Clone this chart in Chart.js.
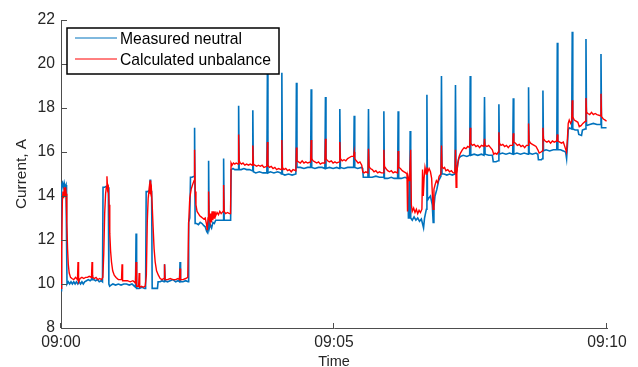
<!DOCTYPE html>
<html>
<head>
<meta charset="utf-8">
<title>Neutral current</title>
<script src="https://cdn.jsdelivr.net/npm/chart.js@4.4.1/dist/chart.umd.min.js"></script>
<style>
  html, body { margin: 0; padding: 0; background: #fff; }
  canvas { display: block; }
</style>
</head>
<body>
<canvas id="chart" width="638" height="367"></canvas>
<script>
// Time axis: seconds after 09:00, labelled every five minutes.
const xTickLabels = ['09:00', '09:05', '09:10'];
const xTickStepSeconds = 300;
const yAxisMin = 8;
const yAxisMax = 22;
const yTickStep = 2;
const seriesNames = ['Measured neutral', 'Calculated unbalance'];

// [seconds after 09:00, current in A]
const measuredNeutral = [
  [0,9.7],[0.6,14.5],[1.5,14.6],[2.5,14.4],[3.5,14.6],[4.5,14.4],[5.5,14.5],[6.1,12.0],[6.6,10.0],
  [8,10.1],[9.5,10.0],[11,10.1],[12.5,10.0],[14,10.1],[15.5,10.0],[17,10.1],[18.5,10.0],[20,10.1],
  [21.5,10.0],[23,10.1],[24.5,10.0],[26,10.1],[28,10.15],[30,10.2],[32,10.15],[33.5,10.2],[34.1,10.4],
  [34.7,10.2],[36,10.2],[38,10.15],[40,10.2],[42,10.1],[44,10.15],[45.6,10.1],
  [46.2,14.4],[48,14.4],[50,14.45],[52,14.4],[52.6,10.0],[53.5,9.9],[55,9.95],[57,10.0],[60,9.95],
  [63,10.0],[66,9.95],[69,10.0],[72,10.0],[75,9.95],[78,10.0],[80.5,9.9],[81.9,9.85],[82.5,12.3],
  [83.1,9.8],[86,9.8],[89,9.85],[92,9.8],[93,9.8],
  [93.6,14.2],[95,14.2],[97.3,14.25],[97.9,14.75],[98.5,14.2],[99.6,14.2],[100.2,9.8],[103,9.8],
  [106,9.8],[106.7,10.1],[109,10.1],[111,10.15],[113.2,10.1],[113.8,10.9],[114.4,10.15],[117,10.1],
  [120,10.15],[123,10.2],[126,10.1],[128.5,10.15],[130.2,10.1],[130.8,11.0],[131.4,10.1],[134,10.1],
  [137,10.15],[139.7,10.1],
  [140.3,12.8],[141.5,13.0],[142.3,14.85],[144,14.85],[146.2,14.9],[146.8,17.1],[147.4,12.75],[149,12.75],
  [151,12.7],[153,12.8],[155,12.75],[157,12.65],[158.5,12.6],[160,12.4],[160.7,12.35],[161.6,12.6],
  [162.2,15.6],[162.8,12.5],[164,12.7],[165.5,12.55],[167,12.8],[168.5,12.75],[170,12.9],[172,12.9],
  [175,12.9],[178.1,12.9],[178.7,15.7],[179.3,12.9],[182,12.9],[185,12.9],[186.4,12.9],
  [187,15.2],[189,15.25],[191,15.2],[194.6,15.2],[195.2,18.1],[195.8,15.2],[198,15.2],[201,15.25],
  [204,15.2],[207,15.2],[210.2,15.15],[210.8,17.9],[211.4,15.1],[214,15.05],[218,15.1],[222,15.05],
  [226.2,15.05],[226.8,19.55],[227.4,15.05],[230,15.1],[234,15.05],[238,15.1],[241.5,15.05],[242.1,15.0],
  [242.7,19.6],[243.3,15.0],[246,14.95],[250,15.0],[254,14.95],[258.1,15.0],[258.7,19.15],[259.3,15.3],
  [263,15.3],[267,15.25],[271,15.3],[274.3,15.3],[274.9,18.85],[275.5,15.3],[279,15.25],[283,15.3],
  [287,15.3],[290,15.25],[290.6,18.5],[291.2,15.25],[295,15.3],[299,15.25],[303,15.3],[305.8,15.25],
  [306.4,17.95],[307,15.3],[311,15.25],[315,15.3],[319,15.3],[321.6,15.3],[322.2,17.65],[322.8,15.3],
  [326,15.25],[330,15.3],[331.5,15.25],
  [332.2,14.85],[335,14.85],[337.3,14.85],[337.9,17.95],[338.5,14.85],[342,14.85],[346,14.9],[350,14.85],
  [354.2,14.85],[354.8,17.85],[355.4,14.8],[359,14.8],[363,14.85],[366,14.8],[369.9,14.8],[370.5,17.85],
  [371.1,14.8],[374,14.8],[378,14.85],[381,14.8],
  [381.8,13.0],[383,13.0],[383.7,16.95],[384.3,13.0],[386,12.9],[388,13.05],[390,12.9],[392,13.0],
  [394,12.85],[396,12.95],[398.4,12.55],[399.5,13.0],[401.5,13.4],[402.1,18.6],[402.7,13.8],[404,13.9],
  [406,14.0],[408,13.6],[409,12.8],[409.8,13.5],[411,14.0],[413,14.3],[415,14.7],[417.5,14.9],
  [418.1,19.45],[418.7,15.0],[421,15.0],[424,14.95],[427,15.0],[430,14.95],[432.9,15.0],[433.5,19.05],
  [434.1,15.0],[435.5,15.3],[437,15.7],[439,15.8],[442,15.85],[446,15.8],[449.1,15.85],[449.7,19.45],
  [450.3,15.85],[454,15.9],[458,15.85],[462,15.9],[464.8,15.85],[465.4,18.5],[466,15.9],[470,15.85],
  [474,15.85],[475,15.56],[478,15.56],[480.6,15.6],[481.2,18.17],[481.8,15.9],[485,15.95],[489,15.9],
  [493,15.95],[496.4,15.9],[497.0,18.44],[497.6,15.9],[501,15.95],[505,15.9],[509,15.95],[513.2,15.9],
  [513.8,18.94],[514.4,15.95],[518,15.9],[522,15.95],[524,15.9],[524.6,15.65],[528,15.65],[529,15.7],
  [529.6,18.8],[530.2,16.05],[533,16.1],[537,16.05],[541,16.1],[544.8,16.1],[545.4,20.97],[546,16.1],
  [549,16.1],[552,16.05],[554.5,16.0],[555.6,15.7],[556.5,16.3],[557.4,17.0],[558.5,17.1],[561.2,17.05],
  [561.8,21.47],[562.4,17.05],[565,17.0],[568,17.0],[569,16.8],[572,16.75],[573,17.0],[576.3,17.05],
  [576.9,21.14],[577.5,17.2],[581,17.25],[585,17.3],[589,17.25],[592.8,17.25],[593.4,20.45],[594,17.1],
  [597,17.1],[599.5,17.1]
];

const calculatedUnbalance = [
  [0,9.8],[0.7,11.5],[1.5,13.8],[2.2,14.2],[2.9,13.9],[3.6,14.4],[4.3,14.0],[5.0,14.4],[5.7,14.1],
  [6.4,12.8],[7.2,11.6],[8.0,10.9],[9,10.5],[10.5,10.3],[12,10.25],[14,10.2],[16,10.3],[18.1,10.2],
  [18.7,11.0],[19.3,10.1],[21,10.25],[23,10.3],[25,10.25],[27,10.3],[29,10.3],[31,10.35],[33.5,10.3],
  [34.1,11.0],[34.7,10.3],[36.5,10.25],[38.5,10.3],[40.5,10.2],[42.5,10.25],[44.5,10.2],[46,10.3],
  [47,11.4],[48,13.2],[49,14.1],[49.8,14.4],[50.5,14.9],[51.2,14.3],[52,14.4],[52.8,13.6],[53.6,12.3],
  [54.5,11.5],[55.5,11.0],[56.8,10.6],[58.5,10.4],[60.5,10.3],[63,10.2],[66.5,10.2],[67.1,10.9],
  [67.7,10.15],[70,10.15],[73,10.15],[76,10.1],[79,10.15],[81.8,10.05],[82.5,11.0],[83.2,9.9],
  [85.3,9.9],[85.9,10.5],[86.5,9.85],[88.5,9.9],[90.5,9.85],[92.5,9.9],[93.8,10.4],[94.8,12.8],
  [95.8,13.9],[96.8,14.3],[97.3,14.1],[97.9,14.7],[98.5,14.2],[99.3,14.35],[100.2,13.6],[101.2,12.6],
  [102.3,11.6],[103.5,11.0],[105,10.6],[107,10.4],[109,10.25],[111,10.2],[113.2,10.25],[113.8,10.9],
  [114.4,10.2],[117,10.2],[120,10.25],[123,10.2],[126,10.2],[128.5,10.25],[130.2,10.2],[130.8,10.7],
  [131.4,10.2],[134,10.2],[137,10.25],[139.3,10.3],[140.3,12.8],[141.5,13.9],[143,14.3],[144.5,14.5],
  [146.2,14.7],[146.8,16.1],[147.5,14.2],[148.3,13.6],[149.5,13.3],[151,13.2],[152.5,13.1],[154,13.05],
  [155.5,13.0],[157,12.95],[158.5,13.0],[160,12.7],[160.7,12.45],[161.6,13.0],[162.2,14.2],[162.8,13.0],
  [163.6,12.85],[164.4,13.2],[165.2,12.8],[166,13.3],[166.8,12.9],[167.6,13.3],[168.4,13.0],[169.2,13.3],
  [170,13.1],[171.5,13.25],[173,13.15],[174.5,13.3],[176,13.2],[178.1,13.3],[178.7,14.5],[179.3,13.3],
  [181,13.2],[183,13.25],[185,13.2],[186.3,13.2],
  [186.9,15.5],[188,15.4],[189.5,15.5],[191,15.45],[192.5,15.5],[194.6,15.45],[195.2,16.8],[195.8,15.6],
  [197,15.5],[198.5,15.45],[200,15.5],[202,15.4],[204,15.45],[206,15.4],[208,15.45],[210.2,15.4],
  [210.8,16.3],[211.4,15.45],[213,15.4],[215,15.35],[217,15.4],[219,15.35],[221,15.4],[223,15.3],
  [226.2,15.35],[226.8,16.45],[227.4,15.4],[229,15.3],[231,15.35],[233,15.25],[235,15.3],[237,15.2],
  [239,15.25],[242.1,15.2],[242.7,16.55],[243.3,15.3],[245,15.2],[247,15.25],[249,15.15],[251,15.2],
  [253,15.1],[255,15.2],[258.1,15.15],[258.7,16.2],[259.3,15.6],[261,15.55],[263,15.5],[265,15.6],
  [267,15.5],[269,15.55],[271,15.5],[274.3,15.55],[274.9,16.55],[275.5,15.7],[277,15.6],[279,15.55],
  [281,15.5],[283,15.55],[285,15.45],[287,15.5],[290,15.5],[290.6,16.6],[291.2,15.7],[293,15.6],
  [295,15.55],[297,15.6],[299,15.5],[301,15.55],[303,15.5],[305.8,15.55],[306.4,16.45],[307,15.7],
  [309,15.6],[311,15.65],[313,15.6],[315,15.7],[317,15.75],[319,15.8],[321.6,15.8],[322.2,16.0],
  [322.8,15.7],[324.5,15.6],[326.5,15.5],[328.5,15.55],[330.5,15.4],[331.6,15.1],[333,15.05],[335,15.1],
  [337.3,15.05],[337.9,16.15],[338.5,15.35],[340,15.25],[342,15.2],[344,15.1],[346,15.15],[348,15.05],
  [350,15.1],[352,15.05],[354.2,15.05],[354.8,16.1],[355.4,15.35],[357,15.25],[359,15.15],[361,15.1],
  [363,15.15],[365,15.05],[367,15.1],[369.9,15.05],[370.5,16.05],[371.1,15.3],[373,15.25],[375,15.15],
  [377,15.1],[379,15.05],[380.2,15.0],[380.8,13.3],[381.4,14.9],[382.5,14.7],[383.4,15.2],[384.2,16.1],
  [385,13.6],[386,13.3],[387.5,13.45],[389,13.25],[390.5,13.4],[392,13.2],[393.5,13.35],[395,13.25],
  [396.6,13.4],[397.3,15.2],[398.1,14.0],[399,14.8],[400,15.3],[401.3,15.0],[402.1,15.3],[403,15.1],
  [404.5,15.25],[406,15.1],[407.3,14.8],[408.3,13.9],[409,13.4],[409.8,14.3],[411,14.5],[412.5,14.7],
  [414,14.6],[415.5,14.9],[417.5,15.0],[418.1,16.3],[418.7,15.35],[420,15.25],[421.5,15.3],[423,15.15],
  [425,15.2],[427,15.1],[429,15.15],[431,15.05],[432.9,15.05],[433.5,16.1],[434.2,14.4],[435,15.0],
  [436,15.5],[437.5,15.8],[439,15.95],[441,16.1],[443,16.2],[445,16.15],[447,16.25],[449.1,16.2],
  [449.7,17.1],[450.3,16.4],[452,16.3],[454,16.35],[456,16.25],[458,16.3],[460,16.2],[462,16.3],
  [464.8,16.25],[465.4,16.6],[466,16.3],[468,16.25],[470,16.3],[472,16.2],[474,16.1],[475.5,15.9],
  [477,15.95],[479,15.9],[480.6,16.0],[481.2,16.9],[481.8,16.4],[483.5,16.3],[485.5,16.35],[487.5,16.25],
  [489.5,16.3],[491.5,16.2],[493.5,16.3],[496.4,16.3],[497.0,16.85],[497.6,16.45],[499.5,16.4],[501.5,16.3],
  [503.5,16.35],[505.5,16.25],[507.5,16.3],[509.5,16.2],[511.5,16.3],[513.2,16.3],[513.8,17.3],[514.4,16.5],
  [516,16.4],[518,16.35],[520,16.3],[522,16.25],[524,16.1],[525.5,15.95],[527.5,16.0],[529,16.05],
  [529.6,17.1],[530.2,16.6],[532,16.5],[534,16.45],[536,16.5],[538,16.4],[540,16.5],[542,16.45],
  [544.8,16.5],[545.4,16.8],[546,16.5],[548,16.45],[550,16.4],[552,16.45],[554,16.2],[555.5,16.0],
  [556.5,16.6],[557.4,17.3],[558.5,17.45],[560,17.3],[561.2,17.4],[561.8,18.35],[562.4,17.6],[564,17.45],
  [566,17.4],[568,17.35],[569.5,17.15],[571.5,17.2],[573.5,17.3],[576.3,17.4],[576.9,18.45],[577.5,17.8],
  [579,17.75],[581,17.7],[583,17.8],[585,17.7],[587,17.75],[589,17.7],[592.8,17.65],[593.4,18.65],
  [594,17.6],[596,17.5],[598,17.45],[599.5,17.4]
];

const FONT = '"Liberation Sans", Arial, Helvetica, sans-serif';
const TEXT_COLOR = '#262626';
const AXIS_COLOR = '#4d4d4d';

const toPoints = rows => rows.map(([t, v]) => ({ x: t, y: v }));

// Short tick marks pointing into the plot area.
const innerTicks = {
  id: 'innerTicks',
  afterDatasetsDraw(chart) {
    const { ctx, scales: { x, y } } = chart;
    ctx.save();
    ctx.strokeStyle = AXIS_COLOR;
    ctx.lineWidth = 1;
    ctx.beginPath();
    y.ticks.forEach(t => {
      const py = Math.round(y.getPixelForValue(t.value)) + 0.5;
      ctx.moveTo(x.left, py);
      ctx.lineTo(x.left + 6, py);
    });
    x.ticks.forEach(t => {
      const px = Math.round(x.getPixelForValue(t.value)) - 0.5;
      ctx.moveTo(px, y.bottom);
      ctx.lineTo(px, y.bottom - 5);
    });
    ctx.stroke();
    ctx.restore();
  }
};

// Boxed legend in the upper-left corner of the plot.
const boxedLegend = {
  id: 'boxedLegend',
  afterDraw(chart) {
    const { ctx, chartArea } = chart;
    const bx = chartArea.left + 6, by = chartArea.top + 8, bw = 212, bh = 46;
    ctx.save();
    ctx.fillStyle = '#fff';
    ctx.fillRect(bx, by, bw, bh);
    ctx.strokeStyle = '#000';
    ctx.lineWidth = 1.5;
    ctx.strokeRect(bx, by, bw, bh);
    ctx.font = '15.7px ' + FONT;
    ctx.textBaseline = 'middle';
    ctx.fillStyle = '#000';
    chart.data.datasets.forEach((ds, i) => {
      const cy = by + 10 + i * 21;
      ctx.strokeStyle = ds.borderColor;
      ctx.lineWidth = 1;
      ctx.beginPath();
      ctx.moveTo(bx + 8, cy);
      ctx.lineTo(bx + 50, cy);
      ctx.stroke();
      ctx.fillText(ds.label, bx + 53, cy + 1.5);
    });
    ctx.restore();
  }
};

new Chart(document.getElementById('chart'), {
  type: 'line',
  data: {
    datasets: [
      { label: seriesNames[0], data: toPoints(measuredNeutral), borderColor: '#0072BD',
        borderWidth: 1.6, pointRadius: 0, tension: 0, order: 2 },
      { label: seriesNames[1], data: toPoints(calculatedUnbalance), borderColor: '#FF0000',
        borderWidth: 1.4, pointRadius: 0, tension: 0, order: 1 }
    ]
  },
  options: {
    responsive: false,
    animation: false,
    events: [],
    layout: { padding: { left: 0, right: 31, top: 20, bottom: 0 } },
    plugins: { legend: { display: false }, tooltip: { enabled: false } },
    scales: {
      x: {
        type: 'linear',
        min: 0,
        max: xTickStepSeconds * (xTickLabels.length - 1),
        afterFit(s) { s.height = 39; },
        afterBuildTicks(s) { s.ticks = xTickLabels.map((_, i) => ({ value: i * xTickStepSeconds })); },
        ticks: {
          autoSkip: false, maxRotation: 0, padding: 5, color: TEXT_COLOR,
          font: { family: FONT, size: 15.7 },
          callback: v => xTickLabels[Math.round(v / xTickStepSeconds)]
        },
        grid: { display: false, drawTicks: false },
        border: { display: true, color: AXIS_COLOR, width: 1 },
        title: { display: true, text: 'Time', color: TEXT_COLOR, padding: 0,
                 font: { family: FONT, size: 14.5, lineHeight: 0.75 } }
      },
      y: {
        min: yAxisMin,
        max: yAxisMax,
        afterFit(s) { s.width = 61; },
        ticks: { stepSize: yTickStep, padding: 6, color: TEXT_COLOR, font: { family: FONT, size: 15.7 } },
        grid: { display: false, drawTicks: false },
        border: { display: true, color: AXIS_COLOR, width: 1 },
        title: { display: true, text: 'Current, A', color: TEXT_COLOR, padding: { top: 12.5, bottom: 0 },
                 font: { family: FONT, size: 15.4 } }
      }
    }
  },
  plugins: [innerTicks, boxedLegend]
});
</script>
</body>
</html>
